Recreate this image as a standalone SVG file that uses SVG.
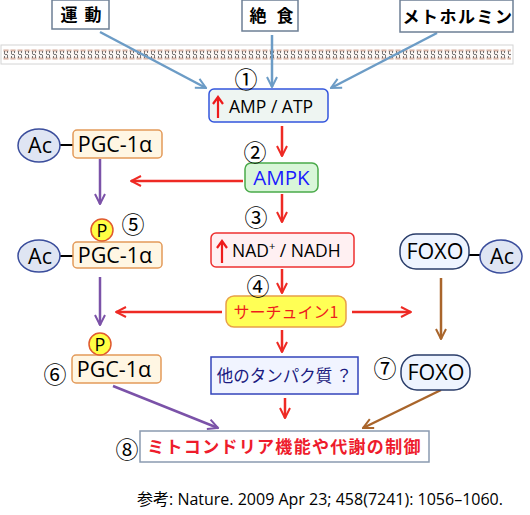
<svg xmlns="http://www.w3.org/2000/svg" width="530" height="515" viewBox="0 0 530 515">
<style>
text{font-family:"Open Sans","Noto Sans CJK JP",sans-serif;fill:#000}
.jp{font-family:"Noto Sans CJK JP",sans-serif}
.src{fill:#fff;stroke:#6d7f95;stroke-width:1.5}
.num{font-family:"Noto Sans CJK JP",sans-serif;font-size:23px;font-weight:normal;text-anchor:middle}
.ac{fill:#dfe5f3;stroke:#3a4d9c;stroke-width:1.5}
.pgc{fill:#fff6e3;stroke:#e39a5a;stroke-width:1.5}
.p{fill:#ffff44;stroke:#e05a30;stroke-width:1.5}
.foxo{fill:#eef4ff;stroke:#2a3d6a;stroke-width:1.5}
.big{font-size:21.5px;text-anchor:middle}
.top{font-family:"Noto Sans CJK JP",sans-serif;font-size:17px;font-weight:bold;text-anchor:middle}
.blue{stroke:#6c9cc6;stroke-width:2.5;fill:none}
.red{stroke:#ee2a24;stroke-width:2.5;fill:none}
.pur{stroke:#7b52a8;stroke-width:2.5;fill:none}
.brn{stroke:#a9652b;stroke-width:2.5;fill:none}
</style>
<defs>
<marker id="mb" viewBox="0 0 10 10" refX="9" refY="5" markerWidth="5" markerHeight="5" orient="auto" markerUnits="strokeWidth"><path d="M1,1 L9,5 L1,9" fill="none" stroke="#6c9cc6" stroke-width="1.6"/></marker>
<marker id="mr" viewBox="0 0 10 10" refX="9" refY="5" markerWidth="5" markerHeight="5" orient="auto" markerUnits="strokeWidth"><path d="M1,1 L9,5 L1,9" fill="none" stroke="#ee2a24" stroke-width="1.6"/></marker>
<marker id="mp" viewBox="0 0 10 10" refX="9" refY="5" markerWidth="5" markerHeight="5" orient="auto" markerUnits="strokeWidth"><path d="M1,1 L9,5 L1,9" fill="none" stroke="#7b52a8" stroke-width="1.6"/></marker>
<marker id="mn" viewBox="0 0 10 10" refX="9" refY="5" markerWidth="5" markerHeight="5" orient="auto" markerUnits="strokeWidth"><path d="M1,1 L9,5 L1,9" fill="none" stroke="#a9652b" stroke-width="1.6"/></marker>
<pattern id="mem" x="3" y="49" width="7" height="11" patternUnits="userSpaceOnUse">
<rect x="0" y="0" width="7" height="11" fill="#fbf6f4"/>
<rect x="0.5" y="0.5" width="5" height="2" fill="#d8b4a6"/>
<rect x="0.5" y="8.5" width="5" height="2" fill="#d8b4a6"/>
<path d="M1.5,2 L1.5,5 C1.5,6.5 4.5,4.5 4.5,6 L4.5,9 M4.5,2 L4.5,4 M1.5,7 L1.5,9" fill="none" stroke="#555" stroke-width="0.8"/>
</pattern>
</defs>

<g id="membrane">
<rect x="1" y="45" width="512" height="19" fill="#fff" stroke="#d4d4d4" stroke-width="1"/>
<rect x="3" y="49" width="508" height="11" fill="url(#mem)"/>
</g>

<g id="connectors">
<path class="blue" d="M100,32 L206,88" marker-end="url(#mb)"/>
<path class="blue" d="M272,35 L272,87" marker-end="url(#mb)"/>
<path class="blue" d="M437,33 L331,88" marker-end="url(#mb)"/>
<path class="red" d="M282,126 L282,156" marker-end="url(#mr)"/>
<path class="red" d="M282,194 L282,222" marker-end="url(#mr)"/>
<path class="red" d="M282,269 L282,293" marker-end="url(#mr)"/>
<path class="red" d="M282,330 L282,352" marker-end="url(#mr)"/>
<path class="red" d="M285,398 L285,418" marker-end="url(#mr)"/>
<path class="red" d="M243,181 L131,181" marker-end="url(#mr)"/>
<path class="red" d="M222,312 L116,312" marker-end="url(#mr)"/>
<path class="red" d="M352,312 L411,312" marker-end="url(#mr)"/>
<path class="pur" d="M100,159 L100,204" marker-end="url(#mp)"/>
<path class="pur" d="M100,277 L100,325" marker-end="url(#mp)"/>
<path class="pur" d="M113,386 L218,428" marker-end="url(#mp)"/>
<path class="brn" d="M441,278 L441,339" marker-end="url(#mn)"/>
<path class="brn" d="M441,390 L363,428" marker-end="url(#mn)"/>
<line x1="60" y1="145" x2="73" y2="145" stroke="#000" stroke-width="2"/>
<line x1="60" y1="256" x2="73" y2="256" stroke="#000" stroke-width="2"/>
<line x1="469" y1="255" x2="481" y2="255" stroke="#000" stroke-width="2"/>
</g>

<g id="exercise">
<rect class="src" x="52" y="0" width="57" height="29"/>
<text class="top" x="69" y="21">運</text>
<text class="top" x="93" y="21">動</text>
</g>
<g id="fasting">
<rect class="src" x="242" y="0" width="56" height="31"/>
<text class="top" x="258" y="22">絶</text>
<text class="top" x="285" y="22">食</text>
</g>
<g id="metformin">
<rect class="src" x="400" y="0" width="113" height="32"/>
<text class="top" x="458" y="23" font-size="16" letter-spacing="1.5">メトホルミン</text>
</g>

<g id="amp">
<rect x="209" y="89" width="119" height="33" rx="5" fill="#eef5f2" stroke="#3355dd" stroke-width="1.5"/>
<path d="M218,118 L218,99 M213,104 L218,97 L223,104" fill="none" stroke="#ee1c1c" stroke-width="2.2"/>
<text x="229" y="113" font-size="17.5">AMP / ATP</text>
<text class="num" x="246" y="88">①</text>
</g>

<g id="ampk">
<rect x="245" y="163" width="73" height="29" rx="6" fill="#d9f6d9" stroke="#4aaa4a" stroke-width="1.5"/>
<text x="281.5" y="185" font-size="20.5" text-anchor="middle" style="fill:#1a1aff">AMPK</text>
<text class="num" x="255" y="161">②</text>
</g>

<g id="nad">
<rect x="211" y="233" width="143" height="34" rx="5" fill="#fff0f2" stroke="#ee3030" stroke-width="1.5"/>
<path d="M222,263 L222,243 M217,248 L222,241 L227,248" fill="none" stroke="#ee1c1c" stroke-width="2.2"/>
<text x="232" y="257" font-size="17.5">NAD<tspan font-size="11" dy="-7">+</tspan><tspan dy="7"> / NADH</tspan></text>
<text class="num" x="256" y="226">③</text>
</g>

<g id="sirtuin">
<rect x="226" y="296" width="120" height="31" rx="8" fill="#ffff55" stroke="#e8a048" stroke-width="1.5"/>
<text class="jp" x="286" y="318" font-size="16" text-anchor="middle" style="fill:#ee1c1c">サーチュイン1</text>
<text class="num" x="258" y="295">④</text>
</g>

<g id="other">
<rect x="211" y="357" width="147" height="37" fill="#f1f4ff" stroke="#3344bb" stroke-width="1.5"/>
<text class="jp" x="284.5" y="382" font-size="16.5" text-anchor="middle" style="fill:#1a1a80">他のタンパク質 ？</text>
</g>

<g id="pgc1">
<ellipse class="ac" cx="39" cy="145.5" rx="21" ry="16.5"/>
<text class="big" x="40" y="153">Ac</text>
<rect class="pgc" x="73" y="130" width="89" height="28" rx="4"/>
<text class="big" x="115" y="152">PGC-1α</text>
</g>

<g id="pgc2">
<ellipse class="ac" cx="39" cy="256" rx="21" ry="16"/>
<text class="big" x="40" y="264">Ac</text>
<rect class="pgc" x="73" y="242" width="89" height="26" rx="4"/>
<text class="big" x="115" y="263">PGC-1α</text>
<circle class="p" cx="102" cy="230" r="11"/>
<text x="102" y="237" font-size="18" text-anchor="middle">P</text>
<text class="num" x="133" y="233">⑤</text>
</g>

<g id="pgc3">
<rect class="pgc" x="72" y="355" width="89" height="28" rx="4"/>
<text class="big" x="114" y="377">PGC-1α</text>
<circle class="p" cx="100" cy="344" r="11"/>
<text x="100" y="351" font-size="18" text-anchor="middle">P</text>
<text class="num" x="55" y="383">⑥</text>
</g>

<g id="foxo1">
<rect class="foxo" x="400" y="234" width="69" height="35" rx="16"/>
<text class="big" x="435" y="259">FOXO</text>
<ellipse class="ac" cx="501" cy="256.5" rx="21" ry="16.5"/>
<text class="big" x="502" y="264">Ac</text>
</g>

<g id="foxo2">
<rect class="foxo" x="401" y="355" width="69" height="35" rx="16"/>
<text class="big" x="436" y="380">FOXO</text>
<text class="num" x="385" y="377">⑦</text>
</g>

<g id="mito">
<rect x="140" y="431" width="289" height="31" fill="#fff" stroke="#8a9ab0" stroke-width="1.5"/>
<text class="jp" x="284.5" y="453" font-size="17" font-weight="bold" text-anchor="middle" style="fill:#ee1c2c" letter-spacing="1.3">ミトコンドリア機能や代謝の制御</text>
<text class="num" x="127" y="458">⑧</text>
</g>

<g id="ref">
<text x="137" y="505" font-size="16"><tspan class="jp">参考</tspan>: Nature. 2009 Apr 23; 458(7241): 1056–1060.</text>
</g>
</svg>
